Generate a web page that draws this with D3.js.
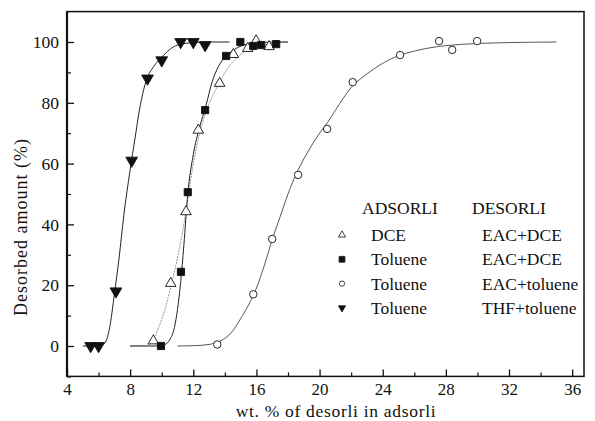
<!DOCTYPE html>
<html><head><meta charset="utf-8">
<script src="https://cdn.jsdelivr.net/npm/d3@7"></script>
<style>body{margin:0;background:#fff}svg{display:block}svg text{font-family:"Liberation Serif","DejaVu Serif","Times New Roman",serif !important;fill:#111}</style>
</head><body>
<script>
// ---- data ----
const xTicks = [4, 8, 12, 16, 20, 24, 28, 32, 36];
const yTicks = [0, 20, 40, 60, 80, 100];

// markers
const thfX = [5.5, 6.0, 7.1, 8.1, 9.1, 10.0, 11.2, 12.0, 12.75];
const thfY = [0, 0, 18, 61, 88, 94, 100, 100, 99];
const sqX = [9.95, 11.22, 11.65, 12.75, 14.08, 14.98, 15.8, 16.3, 17.25];
const sqY = [0, 24.4, 50.6, 77.6, 95.4, 100, 98.7, 99, 99.3];
const triX = [9.47, 10.57, 11.54, 12.32, 13.67, 14.54, 15.45, 15.98, 16.8];
const triY = [1.7, 20.6, 44.2, 71, 86.4, 95.9, 97.9, 100.4, 98.5];
const cirX = [13.52, 15.8, 17.0, 18.64, 20.48, 22.1, 25.1, 27.57, 28.4, 29.98];
const cirY = [0.5, 17, 35.2, 56.3, 71.4, 86.8, 95.7, 100.3, 97.4, 100.3];

// fitted curves
const thfFitX = [5.0, 6.0, 6.4, 6.7, 7.0, 7.3, 7.6, 8.0, 8.3, 8.6, 9.0, 9.5, 10.0, 10.5, 11.0, 12.0, 13.0, 14.3];
const thfFitY = [0, 0, 1, 6, 17, 29, 43, 58, 68, 78, 87, 92, 95, 97.5, 99, 99.8, 100, 100];
const sqFitX = [8.0, 9.5, 10.2, 10.5, 10.8, 11.0, 11.2, 11.4, 11.65, 12.0, 12.4, 12.8, 13.2, 13.6, 14.1, 14.6, 15.2, 16, 17, 18];
const sqFitY = [0, 0, 0.5, 2, 6, 12, 21, 33, 50, 63, 72, 79, 87, 92, 95.5, 97.5, 99, 99.6, 100, 100];
const triFitX = [8.0, 9.0, 9.4, 9.8, 10.2, 10.6, 11.0, 11.5, 12.0, 12.4, 12.8, 13.2, 13.7, 14.2, 14.8, 15.5, 16.5, 18];
const triFitY = [0, 0.2, 1.5, 6, 12, 20, 29, 43, 60, 70, 77, 82, 87, 91.5, 95, 97.5, 99, 100];
const cirFitX = [11, 12, 13, 13.5, 14, 14.5, 15, 15.5, 16, 16.5, 17, 17.5, 18, 18.6, 19, 19.5, 20, 20.5, 21, 21.5, 22, 22.5, 23, 24, 25, 26, 27, 28, 30, 32, 35];
const cirFitY = [0, 0.1, 0.5, 1.2, 2.5, 5, 9, 13.5, 19, 26.5, 35, 42.5, 50, 57.5, 61.5, 66, 70, 73.5, 77.5, 81.5, 85, 87.5, 89.5, 93, 95.5, 97, 98.1, 98.8, 99.5, 99.8, 100];

const legendAds = ["DCE", "Toluene", "Toluene", "Toluene"];
const legendDes = ["EAC+DCE", "EAC+DCE", "EAC+toluene", "THF+toluene"];
const legendSym = ["triUp", "square", "circle", "triDown"];

// ---- drawing ----
const FONT = "'Liberation Serif', 'DejaVu Serif', serif";
const W = 595, H = 421;
const svg = d3.select("body").append("svg").attr("width", W).attr("height", H).attr("font-family", FONT);
const x = d3.scaleLinear().domain([4, 36.75]).range([67, 584]);
const y = d3.scaleLinear().domain([-10, 110]).range([376.4, 11.6]);

// frame
svg.append("rect").attr("x", x(4)).attr("y", y(110)).attr("width", x(36.75) - x(4)).attr("height", y(-10) - y(110))
  .attr("fill", "none").attr("stroke", "#111").attr("stroke-width", 1.5);
svg.append("line").attr("x1", x(4)).attr("x2", x(4)).attr("y1", y(110)).attr("y2", y(-10)).attr("stroke", "#111").attr("stroke-width", 2.2);

// x axis (ticks inward)
const xAxis = d3.axisBottom(x).tickValues(xTicks).tickSize(-7).tickFormat(d3.format("d"));
const gx = svg.append("g").attr("transform", `translate(0,${y(-10)})`).call(xAxis).attr("font-family", FONT);
gx.select(".domain").remove();
gx.selectAll("line").attr("stroke", "#111").attr("stroke-width", 1.3);
gx.selectAll("text").attr("font-size", 17).attr("dy", 0).attr("y", 19).style("font-family", FONT);
const xMinor = d3.axisBottom(x).tickValues(d3.range(6, 37, 4)).tickSize(-4).tickFormat("");
const gxm = svg.append("g").attr("transform", `translate(0,${y(-10)})`).call(xMinor);
gxm.select(".domain").remove();
gxm.selectAll("line").attr("stroke", "#111").attr("stroke-width", 1.2);

// y axis (ticks inward)
const yAxis = d3.axisLeft(y).tickValues(yTicks).tickSize(-7).tickPadding(8).tickFormat(d3.format("d"));
const gy = svg.append("g").attr("transform", `translate(${x(4)},0)`).call(yAxis).attr("font-family", FONT);
gy.select(".domain").remove();
gy.selectAll("line").attr("stroke", "#111").attr("stroke-width", 1.3);
gy.selectAll("text").attr("font-size", 17.5).style("font-family", FONT);
const yMinor = d3.axisLeft(y).tickValues([-10, 10, 30, 50, 70, 90]).tickSize(-4).tickFormat("");
const gym = svg.append("g").attr("transform", `translate(${x(4)},0)`).call(yMinor);
gym.select(".domain").remove();
gym.selectAll("line").attr("stroke", "#111").attr("stroke-width", 1.2);

// axis titles
svg.append("text").attr("x", 336).attr("y", 417).attr("text-anchor", "middle").attr("font-size", 17.5)
  .attr("letter-spacing", 0.7).style("font-family", FONT)
  .text("wt. % of desorli in adsorli");
svg.append("text").attr("transform", "translate(27,227) rotate(-90)").attr("text-anchor", "middle").attr("font-size", 18)
  .attr("letter-spacing", 1).style("font-family", FONT)
  .text("Desorbed amount (%)");

// curves
const line = d3.line().x(d => x(d[0])).y(d => y(d[1])).curve(d3.curveMonotoneX);
const zip = (a, b) => a.map((v, i) => [v, b[i]]);
svg.append("path").datum(zip(cirFitX, cirFitY)).attr("d", line).attr("fill", "none").attr("stroke", "#444").attr("stroke-width", 0.9);
svg.append("path").datum(zip(triFitX, triFitY)).attr("d", line).attr("fill", "none").attr("stroke", "#888").attr("stroke-width", 0.9).attr("stroke-dasharray", "2,1");
svg.append("path").datum(zip(sqFitX, sqFitY)).attr("d", line).attr("fill", "none").attr("stroke", "#222").attr("stroke-width", 1);
svg.append("path").datum(zip(thfFitX, thfFitY)).attr("d", line).attr("fill", "none").attr("stroke", "#222").attr("stroke-width", 1);

// markers
function sym(kind, size) {
  if (kind === "triUp") return { p: d3.symbol(d3.symbolTriangle, size)(), rot: 0, fill: "#fff" };
  if (kind === "triDown") return { p: d3.symbol(d3.symbolTriangle, size)(), rot: 180, fill: "#111" };
  if (kind === "square") return { p: d3.symbol(d3.symbolSquare, size)(), rot: 0, fill: "#111" };
  return { p: d3.symbol(d3.symbolCircle, size)(), rot: 0, fill: "#fff" };
}
function drawMarks(xs, ys, kind, size) {
  const s = sym(kind, size);
  svg.append("g").selectAll("path").data(zip(xs, ys)).join("path")
    .attr("d", s.p)
    .attr("transform", d => `translate(${x(d[0])},${y(d[1])}) rotate(${s.rot})`)
    .attr("fill", s.fill).attr("stroke", "#111").attr("stroke-width", 0.9);
}
drawMarks(cirX, cirY, "circle", 44);
drawMarks(triX, triY, "triUp", 48);
drawMarks(sqX, sqY, "square", 52);
drawMarks(thfX, thfY, "triDown", 60);

// legend
const lg = svg.append("g");
lg.append("text").attr("x", 362).attr("y", 214).attr("font-size", 17.5).style("font-family", FONT).text("ADSORLI");
lg.append("text").attr("x", 472).attr("y", 214).attr("font-size", 17.5).style("font-family", FONT).text("DESORLI");
legendAds.forEach((t, i) => {
  const cy = 235 + i * 24.3;
  const s = sym(legendSym[i], legendSym[i] === "square" ? 34 : 22);
  lg.append("path").attr("d", s.p).attr("transform", `translate(342,${cy}) rotate(${s.rot})`)
    .attr("fill", s.fill).attr("stroke", "#111").attr("stroke-width", 0.8);
  lg.append("text").attr("x", 371).attr("y", cy + 6).attr("font-size", 17.5).style("font-family", FONT).text(t);
  lg.append("text").attr("x", 482).attr("y", cy + 6).attr("font-size", 17.5).style("font-family", FONT).text(legendDes[i]);
});
</script>
</body></html>
